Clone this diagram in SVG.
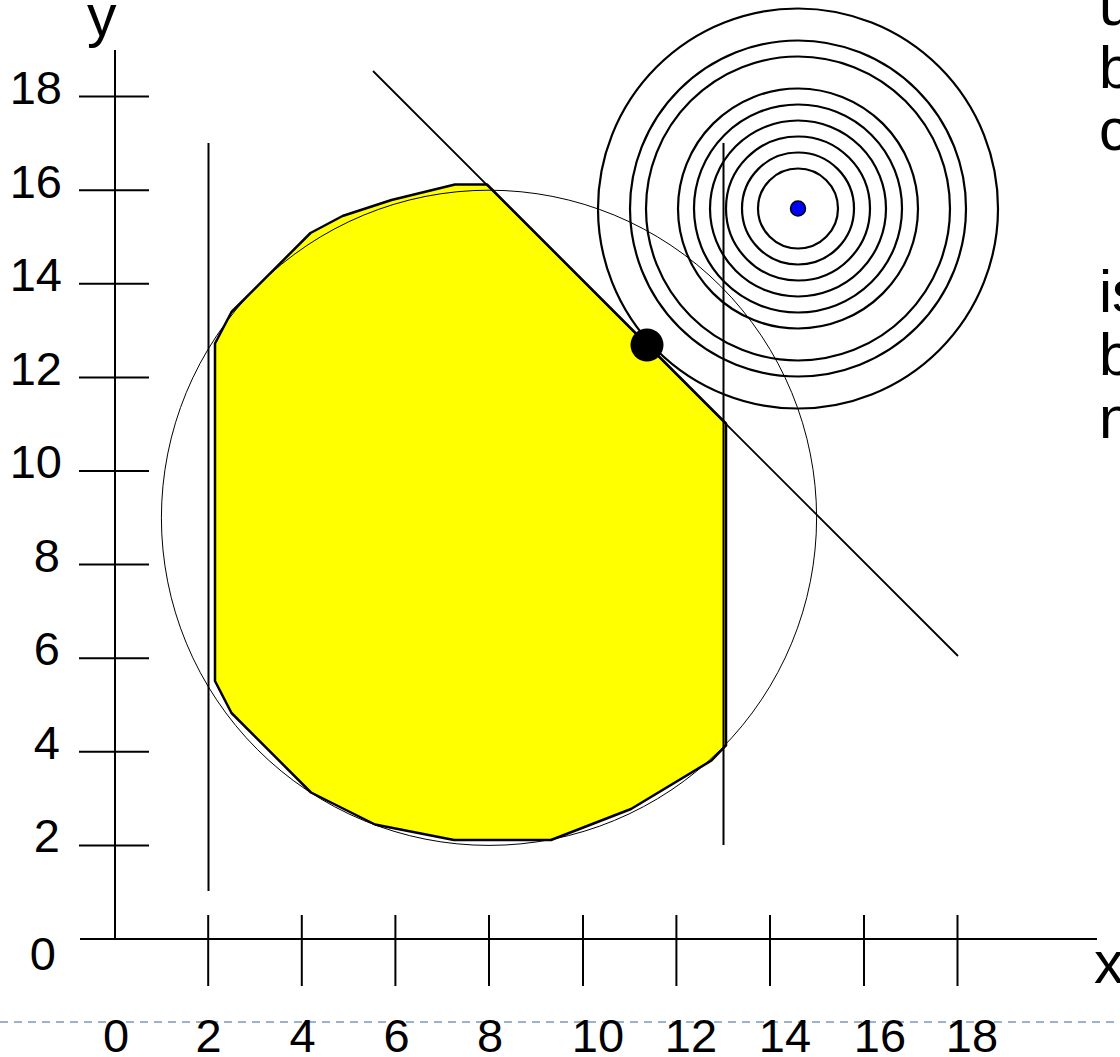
<svg xmlns="http://www.w3.org/2000/svg" width="1120" height="1057" viewBox="0 0 1120 1057">
<style>
.ax{stroke:#000;stroke-width:2;fill:none}
.thin{stroke:#000;stroke-width:1;fill:none}
.ring{stroke:#000;stroke-width:2.2;fill:none}
.num{font-family:"Liberation Sans",Arial,sans-serif;font-size:47px;fill:#000}
.big{font-family:"Liberation Sans",Arial,sans-serif;font-size:59px;fill:#000}
</style>
<rect width="1120" height="1057" fill="#fff"/>
<line x1="0" y1="1022" x2="1120" y2="1022" stroke="#9db2c8" stroke-width="2" stroke-dasharray="8 6"/>

<g id="feasible-region">
<polygon points="455,184.5 487,184.5 726,423.5 726,745.5 711.5,760.5 631,809 551,840 454,840 375,824.5 311,792.5 231.5,713 215,681 215,343.5 231.5,312 310.5,233 342.5,216 391.5,200" fill="#ffff00" stroke="#000" stroke-width="2.5" stroke-linejoin="round"/>
</g>

<g id="constraint-circle">
<circle cx="489" cy="517.8" r="327.6" class="thin"/>
</g>

<g id="axes">
<line x1="115" y1="50" x2="115" y2="939" class="ax"/>
<line x1="80" y1="939" x2="1097" y2="939" class="ax"/>
<g class="ax">
<line x1="79" y1="96.6" x2="149" y2="96.6"/>
<line x1="79" y1="190.2" x2="149" y2="190.2"/>
<line x1="79" y1="283.8" x2="149" y2="283.8"/>
<line x1="79" y1="377.4" x2="149" y2="377.4"/>
<line x1="79" y1="471" x2="149" y2="471"/>
<line x1="79" y1="564.6" x2="149" y2="564.6"/>
<line x1="79" y1="658.2" x2="149" y2="658.2"/>
<line x1="79" y1="751.8" x2="149" y2="751.8"/>
<line x1="79" y1="845.4" x2="149" y2="845.4"/>
<line x1="208.2" y1="915" x2="208.2" y2="986"/>
<line x1="301.8" y1="915" x2="301.8" y2="986"/>
<line x1="395.4" y1="915" x2="395.4" y2="986"/>
<line x1="489" y1="915" x2="489" y2="986"/>
<line x1="583" y1="915" x2="583" y2="986"/>
<line x1="676.4" y1="915" x2="676.4" y2="986"/>
<line x1="770" y1="915" x2="770" y2="986"/>
<line x1="864" y1="915" x2="864" y2="986"/>
<line x1="957.5" y1="915" x2="957.5" y2="986"/>
</g>
<g class="num" text-anchor="end">
<text x="62" y="104">18</text>
<text x="62" y="197.5">16</text>
<text x="62" y="291">14</text>
<text x="62" y="384.5">12</text>
<text x="62" y="478">10</text>
<text x="60" y="571.5">8</text>
<text x="60" y="665">6</text>
<text x="60" y="758.5">4</text>
<text x="60" y="852">2</text>
<text x="56" y="970">0</text>
</g>
<g class="num" text-anchor="middle">
<text x="116" y="1052">0</text>
<text x="208.5" y="1052">2</text>
<text x="302.5" y="1052">4</text>
<text x="396.5" y="1052">6</text>
<text x="490" y="1052">8</text>
<text x="598" y="1052">10</text>
<text x="691" y="1052">12</text>
<text x="785" y="1052">14</text>
<text x="880" y="1052">16</text>
<text x="972" y="1052">18</text>
</g>
<text class="big" x="87" y="36">y</text>
<text class="big" x="1094" y="983">x</text>
</g>

<g id="connectors">
<line x1="208.5" y1="143" x2="208.5" y2="891" class="ax"/>
<line x1="723.5" y1="143" x2="723.5" y2="845" class="ax"/>
<line x1="373" y1="71" x2="958" y2="656" stroke="#000" stroke-width="1.8"/>
</g>

<g id="level-sets">
<circle cx="798" cy="208.5" r="200" class="ring"/>
<circle cx="798" cy="208.5" r="168" class="ring"/>
<circle cx="798" cy="208.5" r="152" class="ring"/>
<circle cx="798" cy="208.5" r="120" class="ring"/>
<circle cx="798" cy="208.5" r="104" class="ring"/>
<circle cx="798" cy="208.5" r="88" class="ring"/>
<circle cx="798" cy="208.5" r="72" class="ring"/>
<circle cx="798" cy="208.5" r="56" class="ring"/>
<circle cx="798" cy="208.5" r="40" class="ring"/>
</g>

<g id="optimum">
<circle cx="647" cy="345" r="16.5" fill="#000"/>
</g>
<g id="target">
<circle cx="798" cy="208.5" r="7.5" fill="#0000ff" stroke="#000" stroke-width="1.5"/>
</g>

<g id="side-text" class="big">
<text x="1099" y="25">u</text>
<text x="1099" y="88">b</text>
<text x="1099" y="150">c</text>
<text x="1099" y="312">is</text>
<text x="1099" y="375">b</text>
<text x="1099" y="438">n</text>
</g>
</svg>
